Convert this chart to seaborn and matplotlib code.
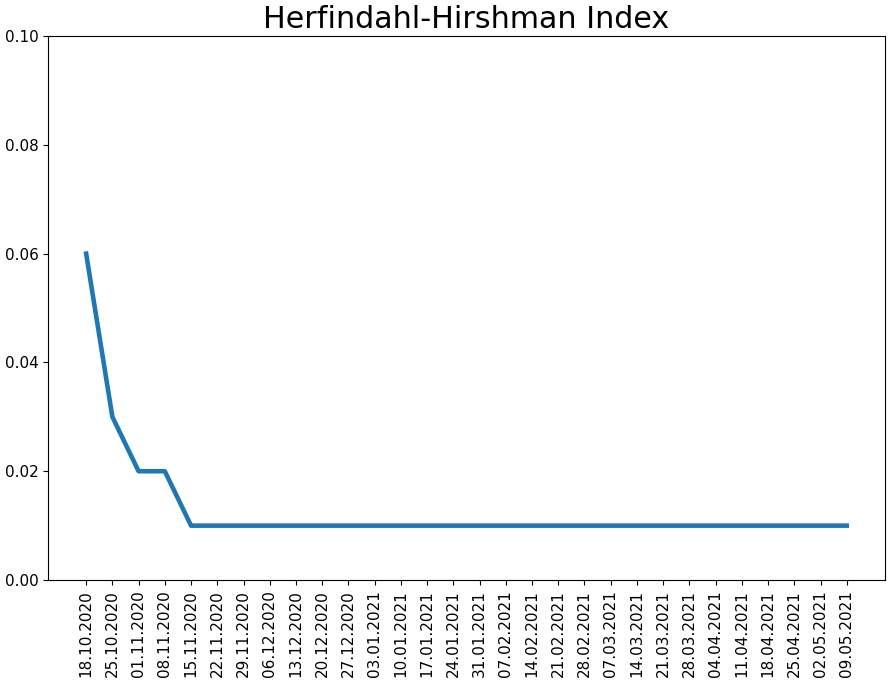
import matplotlib
matplotlib.use("Agg")
import matplotlib.pyplot as plt
import seaborn as sns
import pandas as pd

dates = [
    "18.10.2020", "25.10.2020", "01.11.2020", "08.11.2020", "15.11.2020",
    "22.11.2020", "29.11.2020", "06.12.2020", "13.12.2020", "20.12.2020",
    "27.12.2020", "03.01.2021", "10.01.2021", "17.01.2021", "24.01.2021",
    "31.01.2021", "07.02.2021", "14.02.2021", "21.02.2021", "28.02.2021",
    "07.03.2021", "14.03.2021", "21.03.2021", "28.03.2021", "04.04.2021",
    "11.04.2021", "18.04.2021", "25.04.2021", "02.05.2021", "09.05.2021",
]
hhi = [0.06, 0.03, 0.02, 0.02] + [0.01] * 26

df = pd.DataFrame({"date": dates, "hhi": hhi})

fig, ax = plt.subplots(figsize=(8.91, 6.8), dpi=100)
sns.lineplot(data=df, x="date", y="hhi", ax=ax, color="#1f77b4", linewidth=3.3)

ax.set_ylim(0, 0.1)
ax.set_title("Herfindahl-Hirshman Index", fontsize=21.7)
ax.set_xlabel("")
ax.set_ylabel("")
ax.tick_params(axis="x", labelrotation=90, labelsize=11)
ax.tick_params(axis="y", labelsize=11)
ax.margins(x=0.05)

fig.subplots_adjust(left=0.054, right=0.993, top=0.947, bottom=0.147)
plt.savefig("out.png", dpi=100, facecolor="w")
